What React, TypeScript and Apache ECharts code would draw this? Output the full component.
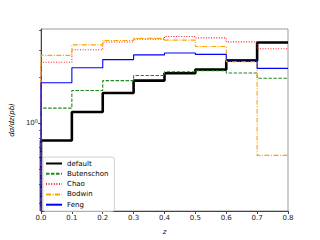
import React, { useEffect, useRef } from 'react';
import * as echarts from 'echarts';

const binEdges = [0, 0.1, 0.2, 0.3, 0.4, 0.5, 0.6, 0.7, 0.8];
const seriesNames = ['default', 'Butenschon', 'Chao', 'Bodwin', 'Feng'];
const defaultVals = [0.77, 1.18, 1.57, 1.89, 2.11, 2.23, 2.55, 3.35];
const butenschonVals = [1.25, 1.63, 1.89, 2.04, 2.16, 2.19, 2.12, 1.96];
const chaoVals = [2.49, 3.0, 3.37, 3.52, 3.66, 3.59, 3.38, 3.05];
const bodwinVals = [2.76, 3.23, 3.45, 3.56, 3.47, 3.15, 2.51, 0.615];
const fengVals = [1.83, 2.29, 2.59, 2.78, 2.86, 2.8, 2.59, 2.27];
const yMajorTicks = [1];
const yMinorTicks = [0.3, 0.4, 0.5, 0.6, 0.7, 0.8, 0.9, 2, 3, 4];
const yMin = 0.267;
const yMax = 4.1;

const FONT = 'DejaVu Sans';

function stepData(vals: number[]) {
  const d: number[][] = [[binEdges[0], yMin]];
  vals.forEach((v, i) => d.push([binEdges[i], v]));
  d.push([binEdges[binEdges.length - 1], vals[vals.length - 1]]);
  return d;
}

export default function App() {
  const ref = useRef<HTMLDivElement>(null);
  useEffect(() => {
    document.body.style.margin = '0';
    const chart = echarts.init(ref.current!, null, { renderer: 'svg' });
    const styles = [
      { color: '#000000', width: 2.6, type: 'solid' as any },
      { color: '#1f8a1f', width: 1.1, type: [3.5, 1.5] as any },
      { color: '#ff2020', width: 1.1, type: [1, 1.6] as any },
      { color: '#ffa500', width: 1.1, type: [5, 1.5, 1, 1.5] as any },
      { color: '#0000ff', width: 1.1, type: 'solid' as any },
    ];
    const allVals = [defaultVals, butenschonVals, chaoVals, bodwinVals, fengVals];
    const series = allVals.map((vals, i) => ({
      name: seriesNames[i],
      type: 'line',
      step: 'end',
      symbol: 'none',
      data: stepData(vals),
      yAxisIndex: 0,
      lineStyle: { color: styles[i].color, width: styles[i].width, type: styles[i].type },
      itemStyle: { color: styles[i].color },
      z: 2 + i,
    }));
    chart.setOption({
      animation: false,
      grid: { left: 40, top: 29, right: 32, bottom: 27, show: true, borderColor: '#999', borderWidth: 1, backgroundColor: '#fff' },
      legend: {
        orient: 'vertical',
        left: 43,
        top: 157,
        itemWidth: 16,
        itemHeight: 7,
        itemGap: 3.3,
        data: seriesNames,
        itemStyle: { opacity: 0, borderWidth: 0 },
        textStyle: { fontSize: 7, fontFamily: FONT, color: '#000' },
        borderColor: '#d0d0d0',
        borderWidth: 1,
        borderRadius: 2,
        padding: [3, 6, 3, 2],
        backgroundColor: 'rgba(255,255,255,0.85)',
        z: 10,
      },
      xAxis: {
        type: 'value',
        min: 0,
        max: 0.8,
        interval: 0.1,
        name: 'z',
        nameLocation: 'middle',
        nameGap: 17,
        nameTextStyle: { fontSize: 7, fontFamily: FONT, fontStyle: 'italic', color: '#000' },
        axisLine: { show: true, lineStyle: { color: '#444', width: 1 } },
        axisTick: { show: true, length: 3, lineStyle: { color: '#444' } },
        axisLabel: { fontSize: 7, fontFamily: FONT, color: '#222', margin: 3, formatter: (v: number) => v.toFixed(1) },
        splitLine: { show: false },
      },
      yAxis: [
        {
          type: 'log',
          logBase: 10,
          min: yMin,
          max: yMax,
          name: 'dσ/dz(pb)',
          nameLocation: 'middle',
          nameGap: 24,
          nameRotate: 90,
          nameTextStyle: { fontSize: 7, fontFamily: FONT, fontStyle: 'italic', color: '#000' },
          axisLine: { show: true, lineStyle: { color: '#444', width: 1 } },
          axisTick: { show: true, length: 3, customValues: yMajorTicks, lineStyle: { color: '#444' } },
          axisLabel: {
            customValues: yMajorTicks,
            margin: 3,
            formatter: () => '{b|10}{s|0}',
            rich: {
              b: { fontSize: 7, fontFamily: FONT, color: '#222' },
              s: { fontSize: 5, fontFamily: FONT, color: '#222', verticalAlign: 'top', padding: [0, 0, 4, 0] },
            },
          },
          splitLine: { show: false },
          minorTick: { show: false },
        },
        {
          type: 'log',
          logBase: 10,
          min: yMin,
          max: yMax,
          position: 'left',
          axisLine: { show: false },
          axisTick: { show: true, length: 1.8, customValues: yMinorTicks, lineStyle: { color: '#444' } },
          axisLabel: { show: false },
          splitLine: { show: false },
        },
      ],
      series,
    });
    return () => chart.dispose();
  }, []);
  return <div ref={ref} style={{ width: 320, height: 240 }} />;
}
